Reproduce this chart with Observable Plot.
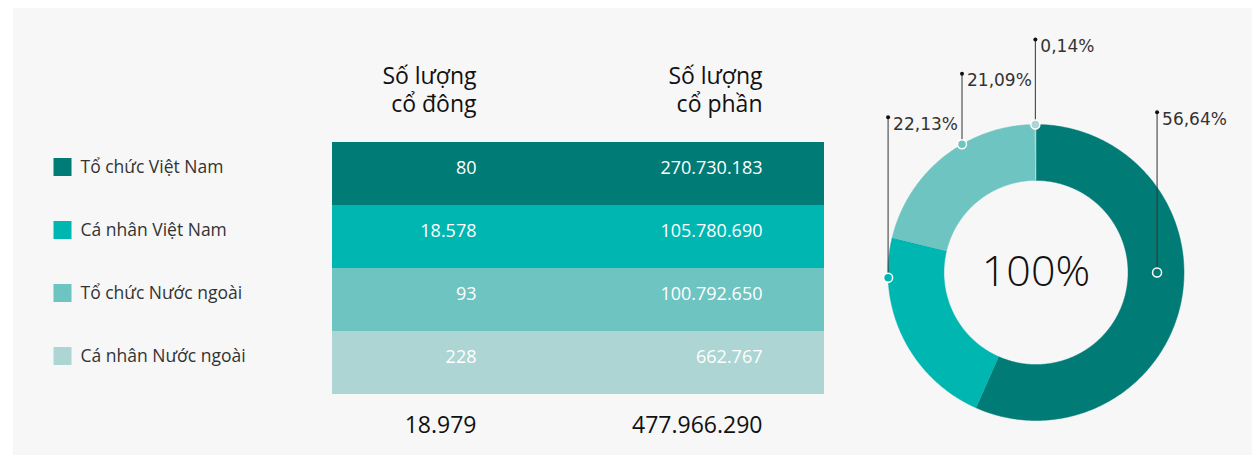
<!DOCTYPE html>
<html>
<head>
<meta charset="utf-8">
<script src="https://cdn.jsdelivr.net/npm/d3@7"></script>
<script src="https://cdn.jsdelivr.net/npm/@observablehq/plot@0.6"></script>
<style>
  html, body { margin: 0; padding: 0; background: #ffffff; overflow: hidden; }
  #wrap { position: relative; width: 1252px; height: 455px; }
  #panel { position: absolute; left: 13px; top: 8px; width: 1239px; height: 447px; background: #f7f7f7; }
  .chart { position: absolute; top: 0; }
</style>
</head>
<body>
<div id="wrap">
  <div id="panel"></div>
  <div id="legend" class="chart" style="left:0px"></div>
  <div id="table" class="chart" style="left:332px"></div>
  <div id="donut" class="chart" style="left:860px"></div>
</div>
<script>
// ---------------- DATA ----------------
const categories = ["Tổ chức Việt Nam", "Cá nhân Việt Nam", "Tổ chức Nước ngoài", "Cá nhân Nước ngoài"];
const shareholders = [80, 18578, 93, 228];            // Số lượng cổ đông
const shares = [270730183, 105780690, 100792650, 662767]; // Số lượng cổ phần
const columns = ["Số lượng\ncổ đông", "Số lượng\ncổ phần"];
const colors = ["#007b76", "#00b6b1", "#6dc4c1", "#acd5d4"];
const centerLabel = "100%";

// ---------------- LAYOUT (not data) ----------------
// callout anchor angle (deg, clockwise from top), radius (outer = 1), and top of leader line (in radii)
const calloutAngle = [90, 268, 330, 359.75];
const calloutRadius = [0.818, 1.0, 1.0, 1.0];
const calloutTop = [1.083, 1.049, 1.343, 1.574];

const HEADER = "__header__", TOTAL = "__total__";
const rows = categories.map((name, i) => ({name, coDong: shareholders[i], coPhan: shares[i]}));
const totals = [d3.sum(shareholders), d3.sum(shares)];

const vn = d3.formatLocale({decimal: ",", thousands: ".", grouping: [3], currency: ["", ""]});
const fmtInt = vn.format(",d");
const fmtPct = vn.format(".2f");

const yBand = {type: "band", domain: [HEADER, ...categories, TOTAL], range: [79, 457], padding: 0, axis: null};
const colorScale = {domain: categories, range: colors};
const base = {height: 455, marginTop: 0, marginBottom: 0, marginLeft: 0, marginRight: 0,
  style: {background: "transparent", overflow: "visible"}};

// ---------------- LEGEND ----------------
const legend = Plot.plot({
  ...base, width: 332,
  y: yBand, color: colorScale,
  marks: [
    Plot.dot(categories, {y: d => d, fill: d => d, symbol: "square", r: 10.16, frameAnchor: "left", dx: 62, dy: -7}),
    Plot.text(categories, {y: d => d, text: d => d, frameAnchor: "left", dx: 80, dy: -7, textAnchor: "start",
      fontSize: 17.5, fontFamily: "Open Sans", fill: "#333"})
  ]
});
document.getElementById("legend").append(legend);

// ---------------- TABLE ----------------
const table = Plot.plot({
  ...base, width: 492,
  x: {type: "point", domain: columns, range: [144, 430], padding: 0, axis: null},
  y: yBand, color: colorScale,
  marks: [
    Plot.cell(rows, {y: "name", fill: "name"}),
    Plot.text(rows, {x: () => columns[0], y: "name", text: d => fmtInt(d.coDong), textAnchor: "end", dy: -6,
      fill: "white", fontSize: 18, fontFamily: "Open Sans"}),
    Plot.text(rows, {x: () => columns[1], y: "name", text: d => fmtInt(d.coPhan), textAnchor: "end", dy: -6,
      fill: "white", fontSize: 18, fontFamily: "Open Sans"}),
    Plot.text(columns, {x: d => d, y: () => HEADER, text: d => d, textAnchor: "end", dy: -22,
      lineHeight: 1.2, fill: "#111", fontSize: 23, fontFamily: "Open Sans"}),
    Plot.text(columns, {x: d => d, y: () => TOTAL, text: (d, i) => fmtInt(totals[i]), textAnchor: "end", dy: 0,
      fill: "#111", fontSize: 23, fontFamily: "Open Sans"})
  ]
});
document.getElementById("table").append(table);

// ---------------- DONUT ----------------
const cx = 175.5, cy = 272, R = 148, innerRatio = 0.622;
const pie = d3.pie().sort(null).value(d => d.coPhan)(rows);
const slicePts = [];
pie.forEach(p => {
  const a0 = p.startAngle, a1 = p.endAngle;
  const n = Math.max(2, Math.ceil((a1 - a0) / (Math.PI / 360)));
  for (let k = 0; k <= n; k++) {
    const a = a0 + (a1 - a0) * k / n;
    slicePts.push({key: p.data.name, x: Math.sin(a), y: Math.cos(a)});
  }
  for (let k = n; k >= 0; k--) {
    const a = a0 + (a1 - a0) * k / n;
    slicePts.push({key: p.data.name, x: innerRatio * Math.sin(a), y: innerRatio * Math.cos(a)});
  }
});
const callouts = rows.map((d, i) => {
  const a = calloutAngle[i] * Math.PI / 180, r = calloutRadius[i];
  return {name: d.name, x: r * Math.sin(a), y: r * Math.cos(a), top: calloutTop[i],
    label: fmtPct(d.coPhan / totals[1] * 100) + "%"};
});

const donut = Plot.plot({
  ...base, width: 392,
  x: {domain: [-1, 1], range: [cx - R, cx + R], axis: null},
  y: {domain: [-1, 1], range: [cy + R, cy - R], axis: null},
  color: colorScale,
  marks: [
    Plot.line(slicePts, {x: "x", y: "y", z: "key", fill: "key", stroke: "key", strokeWidth: 0.5}),
    Plot.link(callouts, {x1: "x", y1: "y", x2: "x", y2: "top", stroke: "#333", strokeWidth: 1}),
    Plot.dot(callouts, {x: "x", y: "top", r: 2, fill: "#111"}),
    Plot.dot(callouts, {x: "x", y: "y", r: 4.5, fill: "name", stroke: "white", strokeWidth: 1.5}),
    Plot.text(callouts, {x: "x", y: "top", text: "label", textAnchor: "start", dx: 5, dy: 7,
      fontSize: 17, fontFamily: "DejaVu Sans", fill: "#333"}),
    Plot.text([centerLabel], {x: () => 0, y: () => 0, text: d => d, fontSize: 43, fontWeight: 300,
      fontFamily: "Open Sans", fill: "#111"})
  ]
});
document.getElementById("donut").append(donut);
</script>
</body>
</html>
